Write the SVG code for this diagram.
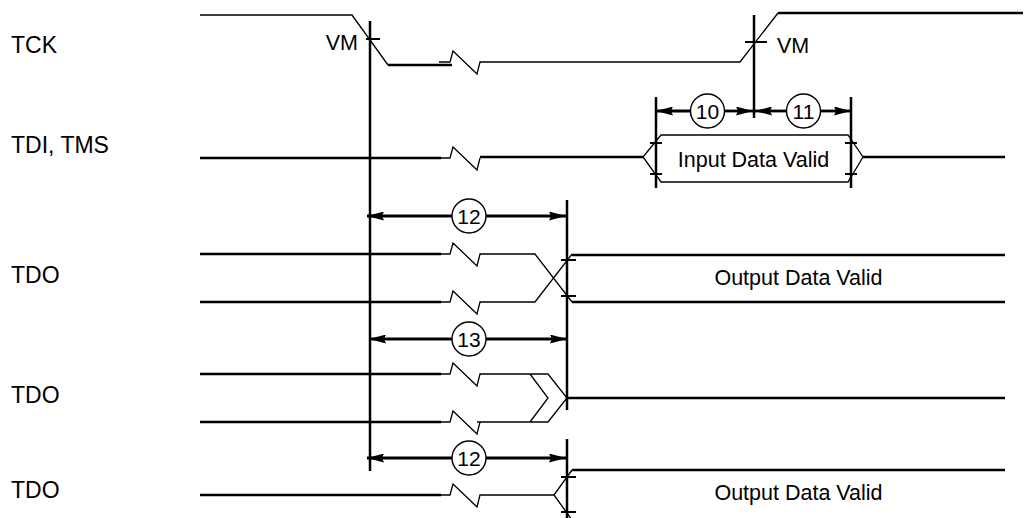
<svg xmlns="http://www.w3.org/2000/svg" width="1025" height="518" viewBox="0 0 1025 518">
<style>
text{font-family:"Liberation Sans",Arial,sans-serif;fill:#000}
.lbl{font-size:23px}
.t{font-size:21.5px}
.num{font-size:21px;text-anchor:middle}
.thick{fill:none;stroke:#000;stroke-width:2.3}
.thin{fill:none;stroke:#000;stroke-width:1.3}
.vl{fill:none;stroke:#000;stroke-width:2.5}
.tick{fill:none;stroke:#000;stroke-width:2}
.dim{fill:none;stroke:#000;stroke-width:2.8;marker-end:url(#ah)}
.circ{fill:#fff;stroke:#000;stroke-width:1.4}
</style>
<defs>
<marker id="ah" viewBox="0 0 17 9" refX="17" refY="4.5" markerWidth="17" markerHeight="9" orient="auto" markerUnits="userSpaceOnUse">
<path d="M0,0 L17,4.5 L0,9 L2,4.5 Z" fill="#000"/>
</marker>
</defs>
<rect width="1025" height="518" fill="#fff"/>

<g id="labels">
<text class="lbl" x="11" y="53">TCK</text>
<text class="lbl" x="11" y="153">TDI, TMS</text>
<text class="lbl" x="11" y="283">TDO</text>
<text class="lbl" x="11" y="403">TDO</text>
<text class="lbl" x="11" y="498">TDO</text>
</g>

<g id="tck">
<path class="thin" d="M200,15 H352 L388,65"/>
<path class="thick" d="M388,65 H452"/>
<path class="thin" d="M439,62 H450 L453,51 L477,74 L480,62 H740 L778,13"/>
<path class="thick" d="M778,13 H1023"/>
<text class="t" x="358" y="50" text-anchor="end">VM</text>
<text class="t" x="777" y="53">VM</text>
</g>

<g id="tdi">
<path class="thick" d="M200,158 H441"/>
<path class="thin" d="M441,158 H450 L453,147 L477,170 L480,158"/>
<path class="thick" d="M480,157 H643"/>
<path class="thin" d="M643,157 L661,135 H848 L863,157 L848,182 H661 Z"/>
<path class="thick" d="M863,157 H1005"/>
<text class="t" x="753.5" y="167" text-anchor="middle">Input Data Valid</text>
</g>

<g id="tdo1">
<path class="thick" d="M200,254 H441 M200,302 H441"/>
<path class="thin" d="M441,254 H450 L453,243 L477,266 L480,254 H535 L572,302 M441,302 H450 L453,291 L477,314 L480,302 H535 L572,254"/>
<path class="thick" d="M572,255 H1005 M572,302 H1005"/>
<text class="t" x="798.5" y="285" text-anchor="middle">Output Data Valid</text>
</g>

<g id="tdo2">
<path class="thick" d="M200,374 H441 M200,422 H441"/>
<path class="thin" d="M441,374 H450 L453,363 L477,386 L480,374 H548 L567,398 L548,422 H480 L477,422 M441,422 H450 L453,411 L477,434 L480,422 M530,374 L548,398 L530,422"/>
<path class="thick" d="M567,398 H1005"/>
</g>

<g id="tdo3">
<path class="thick" d="M200,495 H441"/>
<path class="thin" d="M441,495 H450 L453,484 L477,507 L480,495 H554 L572,470 M554,495 L572,520"/>
<path class="thick" d="M572,470 H1005"/>
<text class="t" x="798.5" y="500" text-anchor="middle">Output Data Valid</text>
</g>

<g id="connectors">
<path class="vl" d="M370,21 V471"/>
<path class="vl" d="M754,15 V118"/>
<path class="vl" d="M656,97 V188 M851,97 V188"/>
<path class="vl" d="M567,200 V410 M567,439 V518"/>
<path class="tick" d="M366,39 H380 M745,42 H767 M650,143 H662 M650,174 H662 M845,143 H857 M845,174 H857 M561,260 H576 M561,296 H576 M561,477 H576 M561,512 H576"/>
<path class="dim" d="M690,111 H656"/>
<path class="dim" d="M725,111 H753"/>
<path class="dim" d="M786,111 H755"/>
<path class="dim" d="M821,111 H851"/>
<path class="dim" d="M452,216 H367"/>
<path class="dim" d="M486,216 H566"/>
<path class="dim" d="M452,339 H369"/>
<path class="dim" d="M486,339 H567"/>
<path class="dim" d="M452,458 H367"/>
<path class="dim" d="M486,458 H566"/>
</g>

<g id="n10"><circle class="circ" cx="707.5" cy="111" r="17"/><text class="num" x="707.5" y="118.5">10</text></g>
<g id="n11"><circle class="circ" cx="803.5" cy="111" r="17"/><text class="num" x="803.5" y="118.5">11</text></g>
<g id="n12a"><circle class="circ" cx="469" cy="216" r="17"/><text class="num" x="469" y="223.5">12</text></g>
<g id="n13"><circle class="circ" cx="469" cy="339" r="17"/><text class="num" x="469" y="346.5">13</text></g>
<g id="n12b"><circle class="circ" cx="469" cy="458" r="17"/><text class="num" x="469" y="465.5">12</text></g>
</svg>
